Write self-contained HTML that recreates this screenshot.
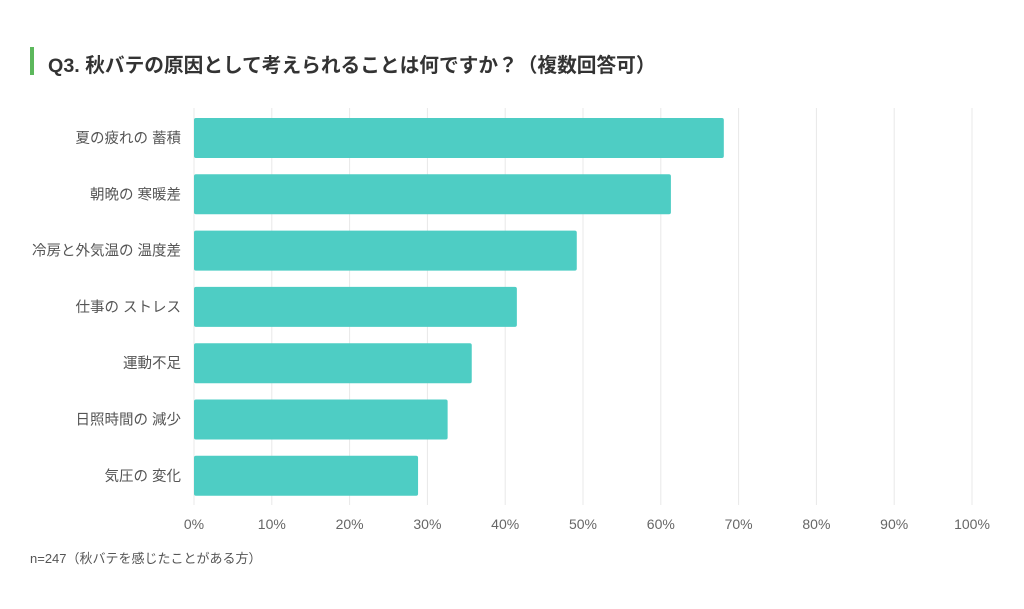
<!DOCTYPE html>
<html><head><meta charset="utf-8">
<style>
body{margin:0;width:1024px;height:609px;background:#fff;font-family:"Liberation Sans","Noto Sans CJK JP",sans-serif;overflow:hidden;position:relative}
#title-bar{position:absolute;left:30px;top:47px;width:4px;height:28px;background:#5cb85c}
#title{position:absolute;left:48px;top:49px;font-size:19.7px;font-weight:bold;color:#333;white-space:nowrap}
#note{position:absolute;left:30px;top:548px;font-size:13px;color:#555}
svg{position:absolute;left:0;top:0}
</style></head><body>
<div id="title-bar"></div>
<div id="title">Q3. 秋バテの原因として考えられることは何ですか？（複数回答可）</div>
<svg id="chart" width="1024" height="609"></svg>
<div id="note">n=247（秋バテを感じたことがある方）</div>
<script>
const categories=["夏の疲れの 蓄積","朝晩の 寒暖差","冷房と外気温の 温度差","仕事の ストレス","運動不足","日照時間の 減少","気圧の 変化"];
const values=[68.1,61.3,49.2,41.5,35.7,32.6,28.8];
const ticks=[0,10,20,30,40,50,60,70,80,90,100];
const tickLabels=["0%","10%","20%","30%","40%","50%","60%","70%","80%","90%","100%"];
const svg=document.getElementById('chart');
const NS='http://www.w3.org/2000/svg';
const x0=194,x1=972,yTop=108,yBot=505,rowTop=118,rowStep=56.3,barH=40;
const xs=v=>x0+(x1-x0)*v/100;
function mk(t,a){const e=document.createElementNS(NS,t);for(const k in a)e.setAttribute(k,a[k]);svg.appendChild(e);return e;}
ticks.forEach((t,i)=>{
  const g=mk('line',{x1:xs(t),x2:xs(t),y1:yTop,y2:yBot,stroke:'#e8e8e8','stroke-width':1});
  
  
  const l=mk('text',{x:xs(t),y:529,'text-anchor':'middle','font-size':14,fill:'#666'});
  l.textContent=tickLabels[i];
  
  
});
categories.forEach((c,i)=>{
  const y=rowTop+i*rowStep;
  const r=mk('rect',{x:x0,y:y,width:xs(values[i])-x0,height:barH,rx:2,fill:'#4ecdc4'});
  
  
  const t=mk('text',{x:181,y:y+barH/2+5,'text-anchor':'end','font-size':14.5,fill:'#555'});
  t.textContent=c;
  
  
});
</script>
</body></html>
